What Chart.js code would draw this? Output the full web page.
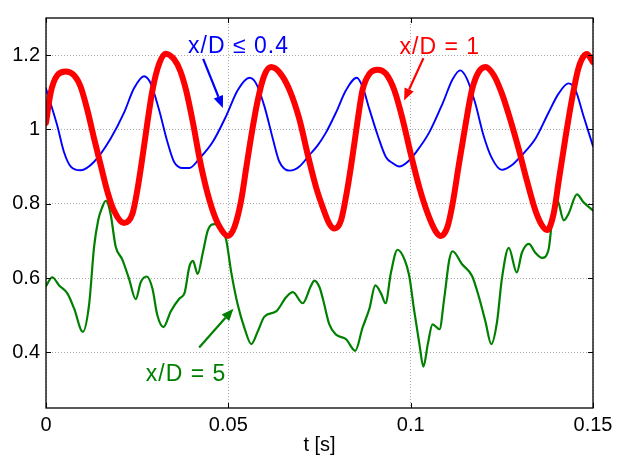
<!DOCTYPE html>
<html><head><meta charset="utf-8">
<script src="https://cdn.jsdelivr.net/npm/chart.js@4/dist/chart.umd.min.js"></script>
<style>html,body{margin:0;padding:0;background:#fff}canvas{display:block}</style>
</head><body>
<canvas id="c" width="622" height="456"></canvas>
<script>
// ---- data ----
const tBlue=[0.0000,0.0031,0.0049,0.0068,0.0095,0.0132,0.0177,0.0214,0.0241,0.0269,0.0287,0.0310,0.0333,0.0351,0.0375,0.0393,0.0421,0.0457,0.0494,0.0526,0.0558,0.0576,0.0599,0.0622,0.0640,0.0668,0.0695,0.0722,0.0745,0.0768,0.0795,0.0823,0.0852,0.0868,0.0887,0.0910,0.0932,0.0951,0.0969,0.0992,0.1015,0.1051,0.1088,0.1115,0.1136,0.1154,0.1177,0.1200,0.1223,0.1250,0.1278,0.1305,0.1342,0.1378,0.1406,0.1433,0.1452,0.1474,0.1500];
const vBlue=[1.110,1.010,0.940,0.900,0.890,0.913,0.975,1.045,1.110,1.143,1.124,1.053,0.966,0.913,0.896,0.896,0.922,0.966,1.036,1.106,1.139,1.124,1.062,0.975,0.913,0.889,0.900,0.931,0.957,0.992,1.045,1.106,1.139,1.115,1.054,0.983,0.926,0.909,0.900,0.913,0.939,0.992,1.071,1.135,1.159,1.137,1.071,0.983,0.922,0.891,0.904,0.931,0.975,1.045,1.097,1.124,1.106,1.036,0.955];

const tRed=[0.0000,0.0013,0.0031,0.0054,0.0077,0.0095,0.0113,0.0132,0.0150,0.0168,0.0186,0.0214,0.0237,0.0250,0.0264,0.0278,0.0292,0.0310,0.0328,0.0351,0.0368,0.0384,0.0403,0.0421,0.0439,0.0457,0.0476,0.0499,0.0517,0.0535,0.0549,0.0563,0.0581,0.0599,0.0617,0.0640,0.0668,0.0695,0.0718,0.0741,0.0759,0.0777,0.0791,0.0809,0.0827,0.0841,0.0855,0.0868,0.0887,0.0910,0.0932,0.0955,0.0978,0.1001,0.1024,0.1047,0.1069,0.1083,0.1101,0.1115,0.1132,0.1150,0.1168,0.1186,0.1205,0.1228,0.1250,0.1273,0.1296,0.1319,0.1342,0.1360,0.1374,0.1392,0.1406,0.1424,0.1442,0.1461,0.1483,0.1500];
const vRed=[1.018,1.100,1.146,1.156,1.146,1.115,1.054,0.975,0.904,0.834,0.782,0.748,0.773,0.834,0.922,1.018,1.106,1.176,1.204,1.189,1.158,1.106,1.018,0.922,0.843,0.782,0.738,0.713,0.738,0.808,0.896,0.983,1.080,1.146,1.168,1.154,1.106,1.027,0.931,0.843,0.790,0.746,0.733,0.755,0.843,0.931,1.027,1.106,1.150,1.161,1.150,1.106,1.027,0.931,0.843,0.773,0.725,0.713,0.738,0.800,0.904,1.010,1.106,1.154,1.168,1.146,1.097,1.027,0.948,0.861,0.782,0.742,0.729,0.773,0.861,0.975,1.080,1.168,1.203,1.181];

const tGreen=[0.0000,0.0017,0.0036,0.0059,0.0077,0.0101,0.0118,0.0132,0.0143,0.0154,0.0164,0.0177,0.0191,0.0209,0.0228,0.0246,0.0260,0.0276,0.0292,0.0305,0.0322,0.0342,0.0366,0.0380,0.0393,0.0403,0.0416,0.0430,0.0444,0.0462,0.0480,0.0494,0.0508,0.0526,0.0544,0.0563,0.0581,0.0599,0.0631,0.0659,0.0677,0.0704,0.0727,0.0736,0.0750,0.0759,0.0777,0.0795,0.0823,0.0848,0.0868,0.0887,0.0903,0.0919,0.0931,0.0946,0.0964,0.0983,0.0996,0.1010,0.1024,0.1035,0.1047,0.1060,0.1079,0.1092,0.1106,0.1115,0.1141,0.1168,0.1186,0.1205,0.1221,0.1237,0.1250,0.1269,0.1291,0.1305,0.1324,0.1342,0.1360,0.1378,0.1388,0.1401,0.1420,0.1433,0.1456,0.1474,0.1500];
const vGreen=[0.578,0.602,0.580,0.558,0.518,0.455,0.527,0.685,0.755,0.790,0.808,0.773,0.685,0.650,0.597,0.543,0.589,0.604,0.571,0.501,0.468,0.510,0.545,0.560,0.630,0.646,0.611,0.668,0.729,0.745,0.733,0.703,0.615,0.527,0.466,0.422,0.457,0.496,0.510,0.549,0.562,0.532,0.580,0.593,0.575,0.545,0.475,0.448,0.435,0.404,0.466,0.518,0.580,0.558,0.532,0.615,0.676,0.650,0.606,0.510,0.422,0.361,0.422,0.475,0.462,0.545,0.650,0.672,0.637,0.606,0.553,0.483,0.422,0.483,0.597,0.681,0.615,0.668,0.692,0.668,0.654,0.676,0.755,0.812,0.755,0.773,0.825,0.804,0.782];

const xTicks=[0,0.05,0.1,0.15];
const yTicks=[0.4,0.6,0.8,1,1.2];

// annotation labels (data coordinates)
const notes=[
  {text:'x/D \u2264 0.4', color:'#0000ff', at:[0.0528,1.224], from:[0.0431,1.190], to:[0.0485,1.058]},
  {text:'x/D = 1',       color:'#ff0000', at:[0.1080,1.220], from:[0.1035,1.192], to:[0.0982,1.078]},
  {text:'x/D = 5',       color:'#008000', at:[0.0384,0.339], from:[0.0420,0.413], to:[0.0514,0.517]}
];

const pts=(t,v)=>t.map((x,i)=>({x:x,y:v[i]}));
const FONT='"Liberation Sans", Arial, Helvetica, sans-serif';

const framePlugin={
  id:'frame',
  afterDraw(chart){
    const {ctx,chartArea:a,scales:{x,y}}=chart;
    ctx.save();
    ctx.strokeStyle='#000';
    ctx.lineWidth=1.3;
    ctx.strokeRect(a.left,a.top,a.right-a.left,a.bottom-a.top);
    ctx.lineWidth=1;
    ctx.beginPath();
    xTicks.forEach(v=>{const p=Math.round(x.getPixelForValue(v))+0.5;
      ctx.moveTo(p,a.bottom);ctx.lineTo(p,a.bottom-5);
      ctx.moveTo(p,a.top);ctx.lineTo(p,a.top+5);});
    yTicks.forEach(v=>{const p=Math.round(y.getPixelForValue(v))+0.5;
      ctx.moveTo(a.left,p);ctx.lineTo(a.left+5,p);
      ctx.moveTo(a.right,p);ctx.lineTo(a.right-5,p);});
    ctx.stroke();
    // annotations
    ctx.font='23px '+FONT;
    ctx.textAlign='center';ctx.textBaseline='middle';
    try{ctx.letterSpacing='1px';}catch(e){}
    notes.forEach(n=>{
      ctx.fillStyle=n.color;ctx.strokeStyle=n.color;
      ctx.fillText(n.text,x.getPixelForValue(n.at[0]),y.getPixelForValue(n.at[1]));
      const x0=x.getPixelForValue(n.from[0]),y0=y.getPixelForValue(n.from[1]);
      const x1=x.getPixelForValue(n.to[0]),y1=y.getPixelForValue(n.to[1]);
      const ang=Math.atan2(y1-y0,x1-x0),L=12,W=5;
      const bx=x1-L*Math.cos(ang),by=y1-L*Math.sin(ang);
      ctx.lineWidth=2.2;
      ctx.beginPath();ctx.moveTo(x0,y0);ctx.lineTo(bx,by);ctx.stroke();
      ctx.beginPath();ctx.moveTo(x1,y1);
      ctx.lineTo(bx+W*Math.sin(ang),by-W*Math.cos(ang));
      ctx.lineTo(bx-W*Math.sin(ang),by+W*Math.cos(ang));
      ctx.closePath();ctx.fill();
    });
    ctx.restore();
  }
};

Chart.defaults.font.family=FONT;
Chart.defaults.font.size=20;
Chart.defaults.color='#000';

new Chart(document.getElementById('c'),{
  type:'line',
  data:{datasets:[
    {label:'x/D = 1',data:pts(tRed,vRed),borderColor:'#ff0000',borderWidth:6,order:0},
    {label:'x/D \u2264 0.4',data:pts(tBlue,vBlue),borderColor:'#0000ff',borderWidth:1.9,order:1},
    {label:'x/D = 5',data:pts(tGreen,vGreen),borderColor:'#008000',borderWidth:2.2,order:2}
  ]},
  options:{
    responsive:false,animation:false,devicePixelRatio:1,
    layout:{padding:{left:0,top:10,right:29,bottom:0}},
    elements:{point:{radius:0},line:{cubicInterpolationMode:'monotone',borderJoinStyle:'round',borderCapStyle:'round',fill:false}},
    datasets:{line:{clip:0}},
    plugins:{legend:{display:false},tooltip:{enabled:false}},
    scales:{
      x:{type:'linear',min:0,max:0.15,
        afterBuildTicks:s=>{s.ticks=xTicks.map(v=>({value:v}));},
        afterFit:s=>{s.height=48;},
        ticks:{padding:5,maxRotation:0,autoSkip:false,callback:v=>String(v)},
        grid:{color:'#aaaaaa',drawTicks:false,lineWidth:1},
        border:{display:false,dash:[1,2]},
        title:{display:true,text:'t [s]',padding:0,font:{size:20,lineHeight:1.05}}
      },
      y:{type:'linear',min:0.25,max:1.3,
        afterBuildTicks:s=>{s.ticks=yTicks.map(v=>({value:v}));},
        afterFit:s=>{s.width=46;},
        ticks:{padding:6,autoSkip:false,callback:v=>String(v)},
        grid:{color:'#aaaaaa',drawTicks:false,lineWidth:1},
        border:{display:false,dash:[1,2]}
      }
    }
  },
  plugins:[framePlugin]
});
</script>
</body></html>
